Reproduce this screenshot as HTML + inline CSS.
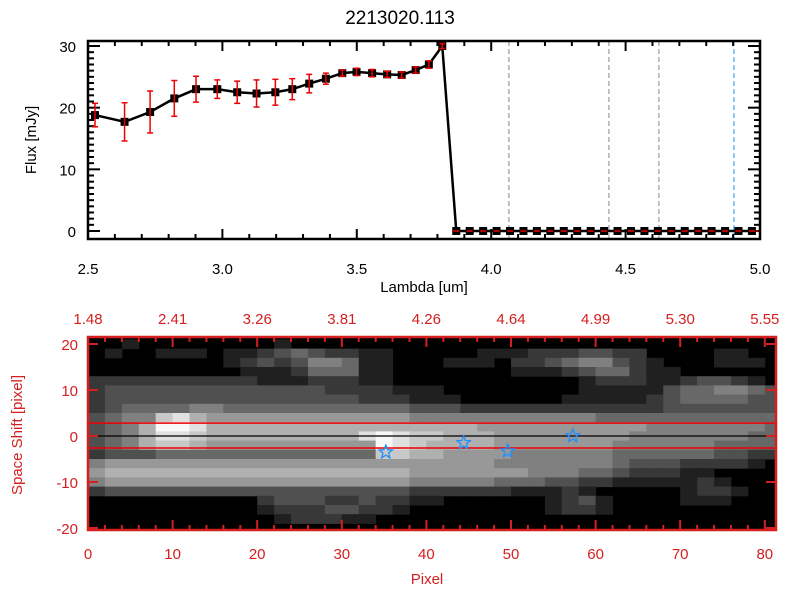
<!DOCTYPE html>
<html><head><meta charset="utf-8"><style>
html,body{margin:0;padding:0;background:#fff;}
svg{display:block;font-family:"Liberation Sans",sans-serif;}
</style></head><body>
<svg id="s" width="800" height="600" viewBox="0 0 800 600">
<rect x="0" y="0" width="800" height="600" fill="#fff"/>
<text x="400" y="24" font-size="19" text-anchor="middle">2213020.113</text>
<g id="top"></g>
<g id="bot"></g>
</svg>
<script>
// ---------- Spectrum data ----------
const lambdas = [2.526,2.636,2.731,2.821,2.902,2.981,3.055,3.127,3.197,3.260,3.323,3.385,3.446,3.499,3.557,3.613,3.667,3.719,3.768,3.818];
const fluxes  = [18.8,17.7,19.3,21.5,23.0,23.0,22.5,22.3,22.5,23.0,23.9,24.7,25.6,25.8,25.6,25.4,25.3,26.1,27.0,30.0];
const errors  = [1.9,3.1,3.4,2.9,2.1,1.5,1.8,2.2,2.1,1.7,1.5,0.9,0.5,0.6,0.6,0.5,0.5,0.5,0.6,0.4];
const zeroLambdas = [3.87,3.92,3.97,4.02,4.07,4.12,4.17,4.22,4.27,4.32,4.37,4.42,4.47,4.52,4.57,4.62,4.67,4.72,4.77,4.82,4.87,4.92,4.97];
const zeroFluxes  = [0,0,0,0,0,0,0,0,0,0,0,0,0,0,0,0,0,0,0,0,0,0,0];
const lineLambdas = [4.066,4.438,4.624];
const blueLineLambda = [4.903];
const xTickLabels = ["2.5","3.0","3.5","4.0","4.5","5.0"];
const xTickValues = [2.5,3.0,3.5,4.0,4.5,5.0];
const yTickValues = [0,10,20,30];
// ---------- Image data ----------
const topAxisLabels = ["1.48","2.41","3.26","3.81","4.26","4.64","4.99","5.30","5.55"];
const pixelTicks = [0,10,20,30,40,50,60,70,80];
const shiftTicks = [20,10,0,-10,-20];
const starPixels = [35.2,44.4,49.6,57.3];
const starShifts = [-3.5,-1.5,-3.3,0];
const redLineShifts = [2.8,-2.6];
const imageRows = [
"00100000000100000000000000000000000000000",
"01001110112343221100000111222332200001100",
"00000000123235541100011102234553210001110",
"00000000011124441100000001112344211000000",
"22222222221112221100000000000122211233210",
"23333333333333222211100000000111113445543",
"23333333333333332221110000001111123444433",
"23444455444444444443332222222222223333333",
"34558976666666666665555555555544444444444",
"3457aa97777777777777777666666666655555554",
"34579987777777779a98877766666666555555544",
"34578876666666666a98777766666665555554444",
"23334444444444444887766665555554444443322",
"56666666666666666666666655555554333222210",
"67777777777777777776666666555443222110000",
"56666666666666666665555544433221111121000",
"23333333333333333332222221112100000122100",
"00000000002333223221100000012310000111000",
"00000000001222332210000000012210000000000",
"00000000000122211000000000000000000000000",
"00000000000000000000000000000000000000000"
];

const NS="http://www.w3.org/2000/svg";
function mk(parent,tag,attrs){const e=document.createElementNS(NS,tag);for(const k in attrs)e.setAttribute(k,attrs[k]);parent.appendChild(e);return e;}

// ---- top plot ----
const T=document.getElementById('top');
const X0=88,X1=760,YT=41,YB=239;
const xs=l=>X0+(l-2.5)*(X1-X0)/2.5;
const ys=f=>231-f*(231-46)/30;
for(const l of lineLambdas){const e=mk(T,'line',{x1:xs(l),x2:xs(l),y1:YT,y2:YB,stroke:'#888','stroke-dasharray':'5,3','stroke-width':1});

}
for(const l of blueLineLambda){const e=mk(T,'line',{x1:xs(l),x2:xs(l),y1:YT,y2:YB,stroke:'#1e90ff','stroke-dasharray':'5,3','stroke-width':1});

}
// minor ticks
for(let i=0;i<=25;i++){const x=X0+i*(X1-X0)/25;const len=(i%5==0)?10:5;
mk(T,'line',{x1:x,x2:x,y1:YB,y2:YB-len,stroke:'#000','stroke-width':2});
mk(T,'line',{x1:x,x2:x,y1:YT,y2:YT+len,stroke:'#000','stroke-width':2});}
for(let v=0;v<=31;v++){const y=ys(v);if(y<YT)continue;const len=(v%10==0)?12:6;
mk(T,'line',{x1:X0,x2:X0+len,y1:y,y2:y,stroke:'#000','stroke-width':2});
mk(T,'line',{x1:X1,x2:X1-len,y1:y,y2:y,stroke:'#000','stroke-width':2});}
const fr=mk(T,'rect',{x:X0,y:YT,width:X1-X0,height:YB-YT,fill:'none',stroke:'#000','stroke-width':2.5});

xTickValues.forEach((v,i)=>{const t=mk(T,'text',{x:xs(v),y:274,'font-size':15,'text-anchor':'middle'});t.textContent=xTickLabels[i];

});
yTickValues.forEach(v=>{const t=mk(T,'text',{x:76,y:ys(v)+6,'font-size':15,'text-anchor':'end'});t.textContent=v;

});
let t=mk(T,'text',{x:424,y:292,'font-size':15,'text-anchor':'middle'});t.textContent='Lambda [um]';

t=mk(T,'text',{x:36,y:140,'font-size':15,'text-anchor':'middle',transform:'rotate(-90 36 140)'});t.textContent='Flux [mJy]';

// zero dashed red
const zl=mk(T,'line',{x1:xs(zeroLambdas[0]),x2:X1,y1:ys(0),y2:ys(0),stroke:'#e00','stroke-dasharray':'5,4','stroke-width':1.5});

// line
const allL=lambdas.concat(zeroLambdas),allF=fluxes.concat(zeroFluxes);
const pl=mk(T,'polyline',{points:allL.map((l,i)=>xs(l)+','+ys(allF[i])).join(' '),fill:'none',stroke:'#000','stroke-width':2.5});

allL.forEach((l,i)=>{const s=mk(T,'rect',{x:xs(l)-4,y:ys(allF[i])-4,width:8,height:8,fill:'#000'});

});
zeroLambdas.forEach(l=>{mk(T,'line',{x1:xs(l)-3,x2:xs(l)+3,y1:ys(0),y2:ys(0),stroke:'#e00','stroke-width':1.5});});
lambdas.forEach((l,i)=>{const x=xs(l),y1=ys(fluxes[i]+errors[i]),y2=ys(fluxes[i]-errors[i]);
const g=mk(T,'g',{stroke:'#e00','stroke-width':1.5});


mk(g,'line',{x1:x,x2:x,y1:y1,y2:y2});mk(g,'line',{x1:x-3,x2:x+3,y1:y1,y2:y1});mk(g,'line',{x1:x-3,x2:x+3,y1:y2,y2:y2});});

// ---- bottom image ----
const B=document.getElementById('bot');
const BX0=88,BX1=776,BY0=337,BY1=530;
const px=p=>88+p*8.46;
const py=u=>436-u*4.6;
const RED='#d42020';
mk(mk(B,'clipPath',{id:'clipImg'}),'rect',{x:BX0,y:BY0,width:BX1-BX0,height:BY1-BY0});
const hm=mk(B,'g',{'clip-path':'url(#clipImg)'});

mk(hm,'rect',{x:BX0,y:BY0,width:BX1-BX0,height:BY1-BY0,fill:'#000'});
imageRows.forEach((row,r)=>{for(let c=0;c<41;c++){const v=parseInt(row[c]||'0',16);if(!v)continue;
const g=Math.min(255,Math.round(v*24+8));
const cell=mk(hm,'rect',{x:px(2*c),y:py(21-2*r),width:8.46*2+0.5,height:9.2+0.5,fill:`rgb(${g},${g},${g})`});

}});
const zline=mk(B,'line',{x1:BX0,x2:BX1,y1:py(0),y2:py(0),stroke:'#000','stroke-width':1.2});

redLineShifts.forEach(u=>{const e=mk(B,'line',{x1:BX0,x2:BX1,y1:py(u),y2:py(u),stroke:'#e00','stroke-width':1.5});

});
function starPts(cx,cy,R,r){let p=[];for(let i=0;i<10;i++){const a=-Math.PI/2+i*Math.PI/5,rr=i%2?r:R;p.push((cx+rr*Math.cos(a)).toFixed(1)+','+(cy+rr*Math.sin(a)).toFixed(1));}return p.join(' ');}
starPixels.forEach((p,i)=>{const s=mk(B,'polygon',{points:starPts(px(p),py(starShifts[i]),7,3),fill:'none',stroke:'#1e90ff','stroke-width':1.3});

});
// ticks
for(let p=0;p<=81;p+=2){const x=px(p);if(x>BX1)break;const len=(p%10==0)?10:5;
mk(B,'line',{x1:x,x2:x,y1:BY1,y2:BY1-len,stroke:RED,'stroke-width':2});
mk(B,'line',{x1:x,x2:x,y1:BY0,y2:BY0+len,stroke:RED,'stroke-width':2});}
for(let u=-20;u<=20;u+=2){const y=py(u);const len=(u%10==0)?10:0;if(!len)continue;
mk(B,'line',{x1:BX0,x2:BX0+len,y1:y,y2:y,stroke:RED,'stroke-width':2});
mk(B,'line',{x1:BX1,x2:BX1-len,y1:y,y2:y,stroke:RED,'stroke-width':2});}
const bf=mk(B,'rect',{x:BX0,y:BY0,width:BX1-BX0,height:BY1-BY0,fill:'none',stroke:RED,'stroke-width':2.5});

pixelTicks.forEach((p,i)=>{let e=mk(B,'text',{x:px(p),y:559,'font-size':15,'text-anchor':'middle',fill:RED});e.textContent=p;


e=mk(B,'text',{x:px(p),y:324,'font-size':15,'text-anchor':'middle',fill:RED});e.textContent=topAxisLabels[i];

});
shiftTicks.forEach(u=>{const e=mk(B,'text',{x:78,y:py(u)+6,'font-size':15,'text-anchor':'end',fill:RED});e.textContent=u;

});
t=mk(B,'text',{x:427,y:584,'font-size':15,'text-anchor':'middle',fill:RED});t.textContent='Pixel';

t=mk(B,'text',{x:22,y:435,'font-size':15,'text-anchor':'middle',fill:RED,transform:'rotate(-90 22 435)'});t.textContent='Space Shift [pixel]';

</script>
</body></html>
